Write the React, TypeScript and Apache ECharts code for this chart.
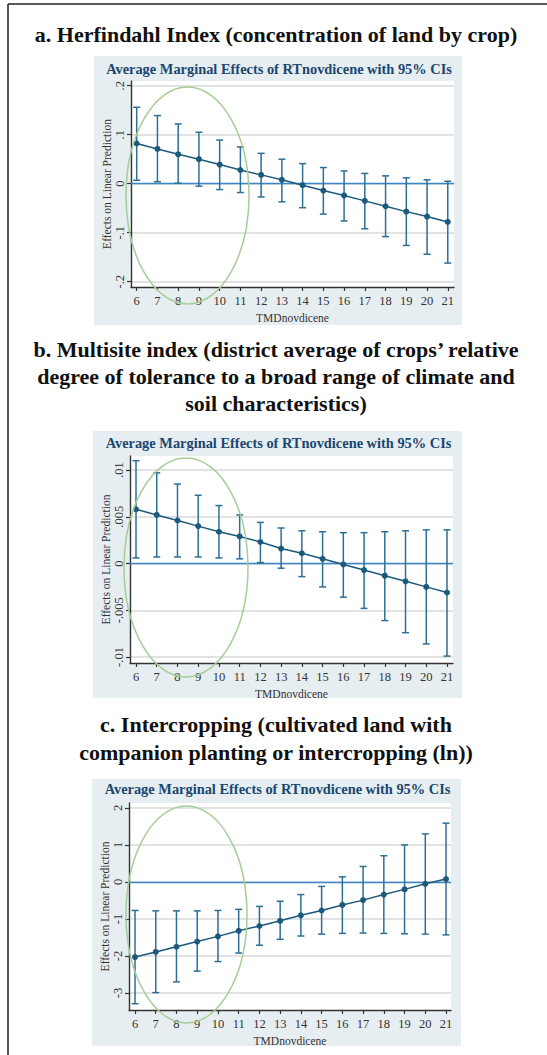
import React, { useEffect, useRef } from "react";
import * as echarts from "echarts";

// Temperature (TMDnovdicene) values at which marginal effects are evaluated
const tmd = [6, 7, 8, 9, 10, 11, 12, 13, 14, 15, 16, 17, 18, 19, 20, 21];

// a. Herfindahl index
const herfEst = [0.082, 0.071, 0.06, 0.05, 0.039, 0.028, 0.018, 0.008, -0.003, -0.014, -0.024, -0.035, -0.046, -0.057, -0.067, -0.078];
const herfHi = [0.156, 0.139, 0.122, 0.105, 0.089, 0.075, 0.062, 0.05, 0.041, 0.033, 0.026, 0.021, 0.016, 0.012, 0.008, 0.005];
const herfLo = [0.007, 0.004, 0.001, -0.005, -0.012, -0.018, -0.027, -0.037, -0.049, -0.062, -0.076, -0.092, -0.108, -0.126, -0.144, -0.162];
const herfTicks = [-0.2, -0.1, 0, 0.1, 0.2];

// b. Multisite index
const multiEst = [0.0058, 0.0052, 0.0046, 0.004, 0.0034, 0.0029, 0.0023, 0.0016, 0.0011, 0.0005, -0.0001, -0.0007, -0.0013, -0.0019, -0.0025, -0.0031];
const multiHi = [0.011, 0.0097, 0.0085, 0.0073, 0.0062, 0.0052, 0.0044, 0.0038, 0.0035, 0.0034, 0.0033, 0.0033, 0.0034, 0.0035, 0.0036, 0.0036];
const multiLo = [0.0006, 0.0007, 0.0007, 0.0007, 0.0006, 0.0005, 0.0001, -0.0005, -0.0014, -0.0025, -0.0036, -0.0048, -0.0061, -0.0074, -0.0086, -0.0099];
const multiTicks = [-0.01, -0.005, 0, 0.005, 0.01];

// c. Intercropping (ln)
const interEst = [-2.03, -1.89, -1.75, -1.61, -1.47, -1.32, -1.19, -1.05, -0.9, -0.77, -0.62, -0.49, -0.34, -0.2, -0.05, 0.08];
const interHi = [-0.77, -0.78, -0.78, -0.78, -0.77, -0.74, -0.66, -0.52, -0.34, -0.12, 0.14, 0.42, 0.71, 1.0, 1.3, 1.59];
const interLo = [-3.29, -2.99, -2.7, -2.41, -2.15, -1.92, -1.71, -1.55, -1.46, -1.41, -1.39, -1.38, -1.39, -1.4, -1.41, -1.43];
const interTicks = [-3, -2, -1, 0, 1, 2];

const panelTitles = [
  ["a. Herfindahl Index (concentration of land by crop)"],
  [
    "b. Multisite index (district average of crops\u2019 relative",
    "degree of tolerance to a broad range of climate and",
    "soil characteristics)",
  ],
  ["c. Intercropping (cultivated land with", "companion planting or intercropping (ln))"],
];
const plotTitle = "Average Marginal Effects of RTnovdicene with 95% CIs";
const xName = "TMDnovdicene";
const yName = "Effects on Linear Prediction";

const SERIF = "'Liberation Serif', 'DejaVu Serif', serif";
const NAVY = "#1a476f";
const EST = "#1b5a7d";
const CI = "#2c7096";
const ZERO = "#3a86c8";
const GRIDLINE = "#d9d9d9";
const AXIS = "#333333";
const PANEL_BG = "#e7eef1";

// Stata-style number labels: drop the leading zero (".1", "-.005")
const stataFmt = (v: number) => {
  if (Math.abs(v) < 1e-12) return "0";
  const s = String(+v.toFixed(4));
  return s.replace(/^(-?)0\./, "$1.");
};

type Panel = {
  est: number[];
  lo: number[];
  hi: number[];
  ticks: number[];
  grid: { left: number; top: number; width: number; height: number };
  xRange: [number, number];
  yRange: [number, number];
  bg: { x: number; y: number; w: number; h: number };
  titleY: number[];
  plotTitleY: number;
  ellipse: { cx: number; cy: number; rx: number; ry: number };
};

const panels: Panel[] = [
  {
    est: herfEst, lo: herfLo, hi: herfHi, ticks: herfTicks,
    grid: { left: 131, top: 81, width: 323, height: 206 },
    xRange: [5.725, 21.3], yRange: [-0.2108, 0.2096],
    bg: { x: 94, y: 56, w: 368, h: 269 },
    titleY: [34], plotTitleY: 69,
    ellipse: { cx: 187.5, cy: 195.5, rx: 61.5, ry: 108.5 },
  },
  {
    est: multiEst, lo: multiLo, hi: multiHi, ticks: multiTicks,
    grid: { left: 130, top: 456, width: 323, height: 207 },
    xRange: [5.71, 21.29], yRange: [-0.01064, 0.0115],
    bg: { x: 93, y: 431, w: 369, h: 267 },
    titleY: [349, 376, 403], plotTitleY: 443,
    ellipse: { cx: 186, cy: 567.5, rx: 62, ry: 109.5 },
  },
  {
    est: interEst, lo: interLo, hi: interHi, ticks: interTicks,
    grid: { left: 129, top: 803, width: 322, height: 207 },
    xRange: [5.71, 21.24], yRange: [-3.46, 2.135],
    bg: { x: 92, y: 779, w: 369, h: 267 },
    titleY: [724, 752], plotTitleY: 789,
    ellipse: { cx: 186.5, cy: 914.5, rx: 60.5, ry: 108.5 },
  },
];

function buildOption() {
  const grid: any[] = [];
  const xAxis: any[] = [];
  const yAxis: any[] = [];
  const series: any[] = [];
  const graphic: any[] = [];

  // page frame
  graphic.push(
    { type: "line", z: 50, shape: { x1: 8, y1: 4, x2: 547, y2: 4 }, style: { stroke: "#222", lineWidth: 1.5 } },
    { type: "line", z: 50, shape: { x1: 8, y1: 4, x2: 8, y2: 1055 }, style: { stroke: "#222", lineWidth: 1.5 } }
  );

  panels.forEach((p, i) => {
    grid.push({
      ...p.grid,
      show: true,
      backgroundColor: "#ffffff",
      borderWidth: 0,
      containLabel: false,
    });

    xAxis.push({
      type: "value",
      gridIndex: i,
      min: p.xRange[0],
      max: p.xRange[1],
      name: xName,
      nameLocation: "middle",
      nameGap: 25,
      nameMoveOverlap: false,
      nameTextStyle: { fontFamily: SERIF, fontSize: 11.5, color: AXIS },
      axisLine: { show: true, onZero: false, lineStyle: { color: AXIS, width: 1.4 } },
      axisTick: { show: true, length: 4, customValues: tmd, lineStyle: { color: AXIS, width: 1.2 } },
      axisLabel: {
        customValues: tmd,
        margin: 7,
        fontFamily: SERIF,
        fontSize: 12.5,
        color: AXIS,
        formatter: (v: number) => String(v),
      },
      splitLine: { show: false },
    });

    yAxis.push({
      type: "value",
      gridIndex: i,
      min: p.yRange[0],
      max: p.yRange[1],
      name: yName,
      nameLocation: "middle",
      nameGap: 18,
      nameMoveOverlap: false,
      nameRotate: 90,
      nameTextStyle: { fontFamily: SERIF, fontSize: 11.5, color: AXIS },
      axisLine: { show: true, onZero: false, lineStyle: { color: AXIS, width: 1.4 } },
      axisTick: { show: true, length: 4, customValues: p.ticks, lineStyle: { color: AXIS, width: 1.2 } },
      axisLabel: {
        customValues: p.ticks,
        rotate: 90,
        margin: 5,
        fontFamily: SERIF,
        fontSize: 12.5,
        color: AXIS,
        formatter: stataFmt,
      },
      splitLine: { show: true, lineStyle: { color: GRIDLINE, width: 1.6 } },
    });

    const ciData = tmd.map((t, k) => [t, p.lo[k], p.hi[k]]);
    series.push({
      type: "custom",
      xAxisIndex: i,
      yAxisIndex: i,
      clip: false,
      z: 3,
      data: ciData,
      encode: { x: 0, y: [1, 2] },
      renderItem: (_params: any, api: any) => {
        const x = api.value(0);
        const top = api.coord([x, api.value(2)]);
        const bot = api.coord([x, api.value(1)]);
        const cap = 3.5;
        const style = { stroke: CI, lineWidth: 1.5 };
        return {
          type: "group",
          children: [
            { type: "line", shape: { x1: top[0], y1: top[1], x2: bot[0], y2: bot[1] }, style },
            { type: "line", shape: { x1: top[0] - cap, y1: top[1], x2: top[0] + cap, y2: top[1] }, style },
            { type: "line", shape: { x1: bot[0] - cap, y1: bot[1], x2: bot[0] + cap, y2: bot[1] }, style },
          ],
        };
      },
    });

    series.push({
      type: "line",
      xAxisIndex: i,
      yAxisIndex: i,
      z: 4,
      data: tmd.map((t, k) => [t, p.est[k]]),
      symbol: "circle",
      symbolSize: 6,
      itemStyle: { color: EST },
      lineStyle: { color: EST, width: 1.5 },
      markLine: {
        silent: true,
        symbol: "none",
        label: { show: false },
        lineStyle: { color: ZERO, width: 1.3, type: "solid" },
        data: [{ yAxis: 0 }],
        z: 2,
      },
    });

    // panel background
    graphic.push({
      type: "rect",
      z: -10,
      silent: true,
      shape: { x: p.bg.x, y: p.bg.y, width: p.bg.w, height: p.bg.h },
      style: { fill: PANEL_BG },
    });

    // panel headings
    panelTitles[i].forEach((line, k) => {
      graphic.push({
        type: "text",
        z: 20,
        x: 276,
        y: p.titleY[k],
        style: {
          text: line,
          fontFamily: SERIF,
          fontWeight: "bold",
          fontSize: 22,
          fill: "#111111",
          textAlign: "center",
          textVerticalAlign: "middle",
        },
      });
    });

    graphic.push({
      type: "text",
      z: 20,
      x: p.bg.x + p.bg.w / 2 + 1,
      y: p.plotTitleY,
      style: {
        text: plotTitle,
        fontFamily: SERIF,
        fontWeight: "bold",
        fontSize: 14.4,
        fill: NAVY,
        textAlign: "center",
        textVerticalAlign: "middle",
      },
    });

    // highlighted low-temperature region
    graphic.push({
      type: "ellipse",
      z: 40,
      silent: true,
      shape: { cx: p.ellipse.cx, cy: p.ellipse.cy, rx: p.ellipse.rx, ry: p.ellipse.ry },
      style: { fill: "none", stroke: "#a6cd98", lineWidth: 1.5 },
    });
  });

  return {
    animation: false,
    backgroundColor: "#ffffff",
    grid,
    xAxis,
    yAxis,
    series,
    graphic,
  };
}

export default function App() {
  const ref = useRef<HTMLDivElement>(null);

  useEffect(() => {
    if (!ref.current) return;
    const chart = echarts.init(ref.current, undefined, { renderer: "svg" });
    chart.setOption(buildOption() as any);
    return () => chart.dispose();
  }, []);

  return (
    <div
      ref={ref}
      style={{ position: "absolute", left: 0, top: 0, width: 547, height: 1055 }}
    />
  );
}
